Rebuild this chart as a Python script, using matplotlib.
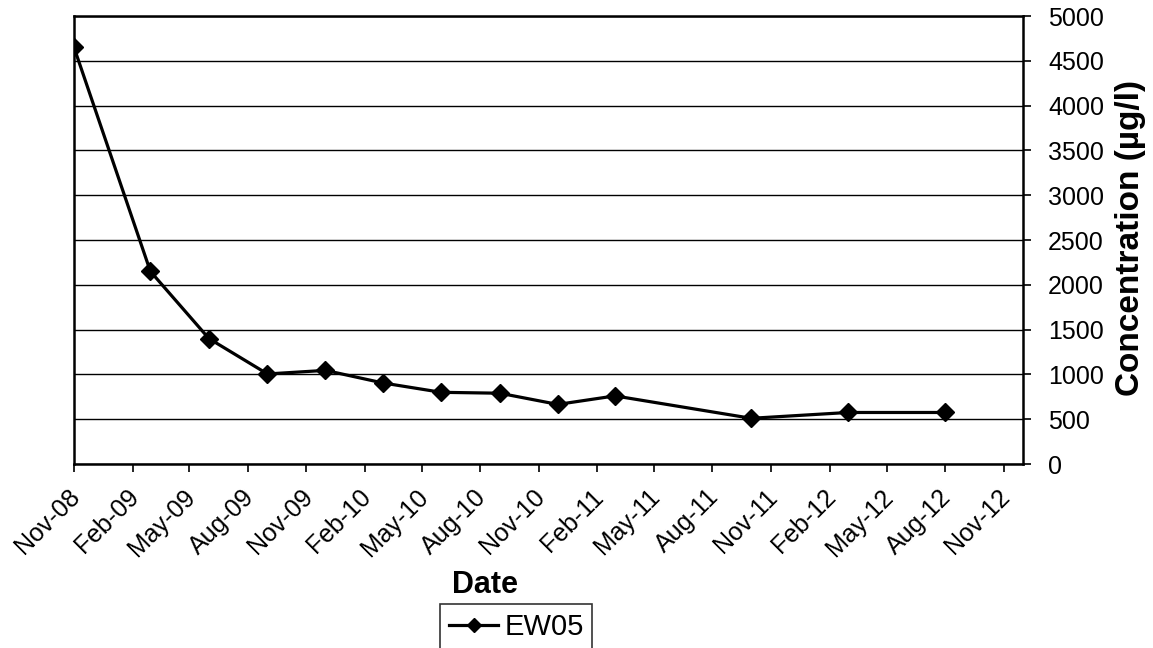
import datetime as dt
import matplotlib
matplotlib.use("Agg")
import matplotlib.pyplot as plt
import matplotlib.dates as mdates
from matplotlib.transforms import ScaledTranslation

# ------------------------------------------------------------
# data
# ------------------------------------------------------------
SAMPLE_DATES = [
    "2008-11-15", "2009-03-15", "2009-06-15", "2009-09-15", "2009-12-15",
    "2010-03-15", "2010-06-15", "2010-09-15", "2010-12-15", "2011-03-15",
    "2011-10-15", "2012-03-15", "2012-08-15",
]
EW05_CONC = [4650, 2150, 1400, 1005, 1045, 905, 800, 790, 665, 760, 510, 575, 575]

Y_TICKS = [0, 500, 1000, 1500, 2000, 2500, 3000, 3500, 4000, 4500, 5000]
X_START = "2008-11-15"
X_END = "2012-12-15"

plt.rcParams["font.family"] = ["Liberation Sans", "DejaVu Sans"]

W, H = 1153, 648


def main():
    dates = [dt.datetime.strptime(d, "%Y-%m-%d") for d in SAMPLE_DATES]

    fig = plt.figure(figsize=(W / 100, H / 100), dpi=100)
    ax = fig.add_axes([74 / W, 1 - 464 / H, (1023 - 74) / W, (464 - 16) / H])

    ax.plot(dates, EW05_CONC, color="black", lw=2.3, marker="D", ms=9,
            mfc="black", mec="black", label="EW05", zorder=3)

    ax.set_xlim(dt.datetime.strptime(X_START, "%Y-%m-%d"),
                dt.datetime.strptime(X_END, "%Y-%m-%d"))
    ax.set_ylim(0, 5000)
    ax.set_yticks(Y_TICKS)
    ax.yaxis.grid(True, color="black", lw=1.0)
    ax.set_axisbelow(True)

    ax.xaxis.set_major_locator(mdates.MonthLocator(bymonth=[2, 5, 8, 11], bymonthday=15))
    ax.xaxis.set_major_formatter(mdates.DateFormatter("%b-%y"))

    # y axis on the right
    ax.yaxis.tick_right()
    ax.yaxis.set_label_position("right")

    for sp in ax.spines.values():
        sp.set_linewidth(1.8)
        sp.set_color("black")

    ax.tick_params(axis="y", direction="out", length=6, width=1.2,
                   labelsize=18, pad=12)
    ax.tick_params(axis="x", direction="out", length=6, width=1.2,
                   labelsize=18, pad=9)
    for lab in ax.get_yticklabels():
        lab.set_horizontalalignment("left")
    shift = ScaledTranslation(-6 / 100, 0, fig.dpi_scale_trans)
    for lab in ax.get_xticklabels():
        lab.set_rotation(45)
        lab.set_ha("right")
        lab.set_va("top")
        lab.set_rotation_mode("anchor")
        lab.set_transform(lab.get_transform() + shift)

    fig.text(485 / W, 1 - 585 / H, "Date", fontsize=22, fontweight="bold",
             ha="center", va="center")
    fig.text(1130 / W, 1 - 238 / H, "Concentration (\u00b5g/l)", fontsize=24,
             fontweight="bold", rotation=90, ha="center", va="center")

    leg = fig.legend(loc="upper left", bbox_to_anchor=(440 / W, 1 - 604 / H),
                     fontsize=21, frameon=True, fancybox=False, handlelength=1.7,
                     handletextpad=0.2, borderpad=0.3, borderaxespad=0,
                     markerscale=0.75)
    leg.get_frame().set_edgecolor("black")
    leg.get_frame().set_linewidth(1.2)

    fig.savefig("out.png", dpi=100)
    plt.close(fig)


if __name__ == "__main__":
    main()
